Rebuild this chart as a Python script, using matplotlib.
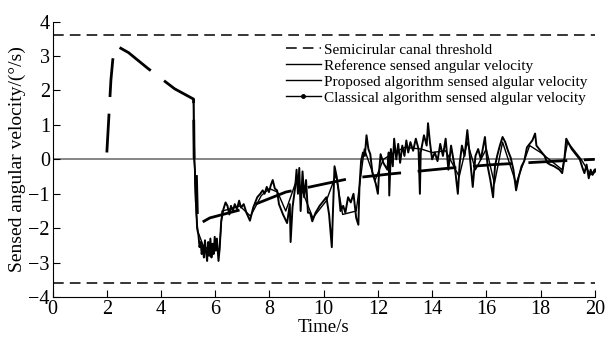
import matplotlib
matplotlib.use('Agg')
import matplotlib.pyplot as plt
from matplotlib.lines import Line2D

plt.rcParams['font.family'] = ['Liberation Serif', 'DejaVu Serif']

# Threshold of the semicircular canal (deg/s)
threshold = 3.6

# Reference sensed angular velocity (smooth curve)
ref_t = [2.0, 2.1, 2.15, 2.22, 2.35, 2.8, 3.5, 4.0, 4.5, 5.2, 5.22, 5.3,
         5.35, 5.8, 7.0, 8.6, 11.0, 12.5, 14.7, 16.3, 18.6, 20.0]
ref_v = [0.2, 1.6, 2.3, 2.9, 3.3, 3.1, 2.65, 2.35, 2.05, 1.75, 0.0, -0.3,
         -1.9, -1.7, -1.45, -0.95, -0.55, -0.42, -0.25, -0.15, -0.05, 0.0]

# Proposed algorithm sensed angular velocity
prop_t = [5.20, 5.22, 5.25, 5.26, 5.28, 5.30, 5.33, 5.38, 5.42, 5.46, 5.50, 5.54,
          5.58, 5.62, 5.66, 5.70, 5.74, 5.78, 5.82, 5.86, 5.90, 5.94, 5.98, 6.02,
          6.06, 6.12, 6.16, 6.22, 6.30, 6.38, 6.45, 6.52, 6.58, 6.65, 6.72, 6.80,
          6.88, 6.95, 7.05, 7.15, 7.28, 7.40, 7.55, 7.66, 7.75, 7.82, 7.90, 7.98,
          8.05, 8.12, 8.20, 8.28, 8.35, 8.50, 8.65, 8.75, 8.78, 8.85, 8.95, 9.00,
          9.05, 9.10, 9.15, 9.22, 9.28, 9.35, 9.42, 9.50, 9.58, 9.70, 9.85, 10.00,
          10.10, 10.20, 10.30, 10.33, 10.40, 10.48, 10.55, 10.62, 10.72, 10.80, 10.90, 11.00,
          11.10, 11.20, 11.28, 11.32, 11.38, 11.45, 11.52, 11.58, 11.65, 11.72, 11.80, 11.92,
          12.00, 12.05, 12.10, 12.20, 12.35, 12.40, 12.42, 12.48, 12.55, 12.60, 12.68, 12.75,
          12.82, 12.90, 12.98, 13.05, 13.12, 13.20, 13.30, 13.40, 13.50, 13.55, 13.58, 13.70,
          13.80, 13.85, 13.92, 14.00, 14.10, 14.20, 14.30, 14.40, 14.50, 14.60, 14.70, 14.85,
          14.95, 15.02, 15.10, 15.20, 15.30, 15.38, 15.50, 15.60, 15.70, 15.80, 15.95, 16.05,
          16.15, 16.25, 16.32, 16.40, 16.50, 16.60, 16.70, 16.80, 16.90, 17.00, 17.10, 17.20,
          17.30, 17.40, 17.50, 17.60, 17.70, 17.80, 17.85, 17.95, 18.05, 18.15, 18.25, 18.35,
          18.50, 18.60, 18.70, 18.80, 18.88, 18.95, 19.05, 19.15, 19.25, 19.35, 19.45, 19.55,
          19.62, 19.70, 19.78, 19.85, 19.92, 20.00]
prop_v = [1.70, 0.00, -0.30, -0.70, -1.20, -1.40, -2.00, -2.20, -2.55, -2.40, -2.75, -2.50,
          -2.85, -2.35, -2.70, -2.95, -2.40, -2.80, -2.30, -2.85, -2.45, -2.75, -2.25, -2.65,
          -2.30, -2.95, -2.60, -1.80, -1.45, -1.25, -1.35, -1.60, -1.35, -1.50, -1.30, -1.45,
          -1.20, -1.40, -1.30, -1.55, -1.78, -1.40, -1.10, -1.00, -0.90, -1.00, -0.80, -0.95,
          -0.75, -0.60, -0.85, -0.90, -1.30, -1.60, -1.85, -1.30, -2.40, -1.40, -0.80, -0.30,
          -1.00, -0.25, -1.50, -0.35, -1.10, -0.60, -1.55, -1.55, -1.80, -1.55, -1.35, -1.20,
          -1.10, -1.60, -2.55, -1.80, -0.20, -0.50, -0.90, -1.50, -1.35, -1.55, -1.10, -1.25,
          -1.00, -1.70, -1.90, -0.80, -0.05, 0.20, 0.10, 0.70, 0.30, 0.15, -0.40, -0.70,
          -1.00, -0.30, 0.15, -0.10, -0.30, 0.20, -1.05, 0.30, -0.20, 0.60, 0.00, 0.45,
          -0.10, 0.40, 0.10, 0.55, 0.20, 0.50, 0.25, 0.60, 0.30, -1.00, 0.20, 0.70,
          0.40, 1.05, 0.50, 0.00, 0.20, -0.05, 0.45, 0.10, 0.60, -0.30, 0.40, -0.30,
          -1.00, -0.10, 0.40, 0.10, 0.85, 0.20, -0.80, 0.10, 0.30, 0.00, 0.65, -0.20,
          -0.60, -1.10, -0.20, 0.10, 0.40, 0.65, 0.50, 0.25, 0.05, -0.30, -0.90, -0.50,
          -0.20, -0.05, 0.35, 0.45, 0.55, 0.75, 0.40, 0.30, 0.20, 0.10, -0.10, -0.15,
          -0.20, -0.25, -0.30, -0.40, 0.00, 0.60, 0.45, 0.30, 0.20, 0.10, 0.00, -0.25,
          -0.40, -0.15, -0.55, -0.30, -0.45, -0.35]

# Classical algorithm sensed angular velocity
clas_t = [5.20, 5.25, 5.30, 5.36, 5.60, 5.90, 6.15, 6.25, 6.50, 6.90, 7.30, 7.70,
          8.00, 8.30, 8.60, 9.00, 9.20, 9.60, 10.10, 10.45, 10.70, 11.20, 11.50, 11.90,
          12.20, 12.60, 13.00, 13.60, 14.00, 14.50, 15.00, 15.30, 15.60, 16.00, 16.30, 16.60,
          17.10, 17.60, 18.00, 18.80, 19.00, 19.50, 19.85, 20.00]
clas_v = [1.70, -0.60, -1.60, -2.10, -2.60, -2.50, -2.70, -1.50, -1.45, -1.35, -1.65, -1.05,
          -0.85, -0.95, -1.50, -0.60, -0.90, -1.70, -1.20, -0.45, -1.60, -1.50, 0.30, -0.60,
          0.00, 0.20, 0.35, 0.30, 0.20, 0.25, -0.50, 0.50, -0.30, 0.30, -0.70, 0.50,
          -0.70, 0.40, 0.20, -0.30, 0.50, 0.00, -0.45, -0.30]

fig = plt.figure(figsize=(6.05, 3.38), dpi=100)
ax = fig.add_axes([0.087, 0.121, 0.896, 0.815])

ax.axhline(0, color='#666666', lw=1.1, zorder=1)
ax.plot([0, 20], [threshold, threshold], color='black', lw=1.1, dashes=(7, 4))
ax.plot([0, 20], [-threshold, -threshold], color='black', lw=1.1, dashes=(7, 4))

ax.plot(ref_t, ref_v, color='black', lw=2.0, dashes=(14, 6))
ax.plot(prop_t, prop_v, color='black', lw=1.4)
ax.plot(clas_t, clas_v, color='black', lw=1.0, marker='.', markersize=4,
        markevery=[len(clas_t) - 1])

ax.set_xlim(0, 20)
ax.set_ylim(-4, 4)
ax.set_xticks(range(0, 21, 2))
ax.set_yticks(range(-4, 5))
ax.spines['top'].set_visible(False)
ax.spines['right'].set_visible(False)
ax.tick_params(direction='in', length=5, labelsize=14.5, pad=2)

ax.set_xlabel('Time/s', fontsize=13.5, labelpad=0)
ax.set_ylabel('Sensed angular velocity/(°/s)', fontsize=14, labelpad=2)

# legend with plain line samples like the original figure
h1 = Line2D([], [], color='black', lw=1.1, dashes=(7, 4))
h2 = Line2D([], [], color='black', lw=1.0)
h3 = Line2D([], [], color='black', lw=1.0)
h4 = Line2D([], [], color='black', lw=1.0, marker='.', markersize=5)
labels = ['Semicirular canal threshold',
          'Reference sensed angular velocity',
          'Proposed algorithm sensed algular velocity',
          'Classical algorithm sensed algular velocity']
ax.legend([h1, h2, h3, h4], labels,
          loc='upper left', bbox_to_anchor=(0.419, 0.945), frameon=False,
          fontsize=11, handlelength=2.3, handletextpad=0.2, labelspacing=0.15,
          borderaxespad=0)

plt.savefig('out.png', dpi=100)
